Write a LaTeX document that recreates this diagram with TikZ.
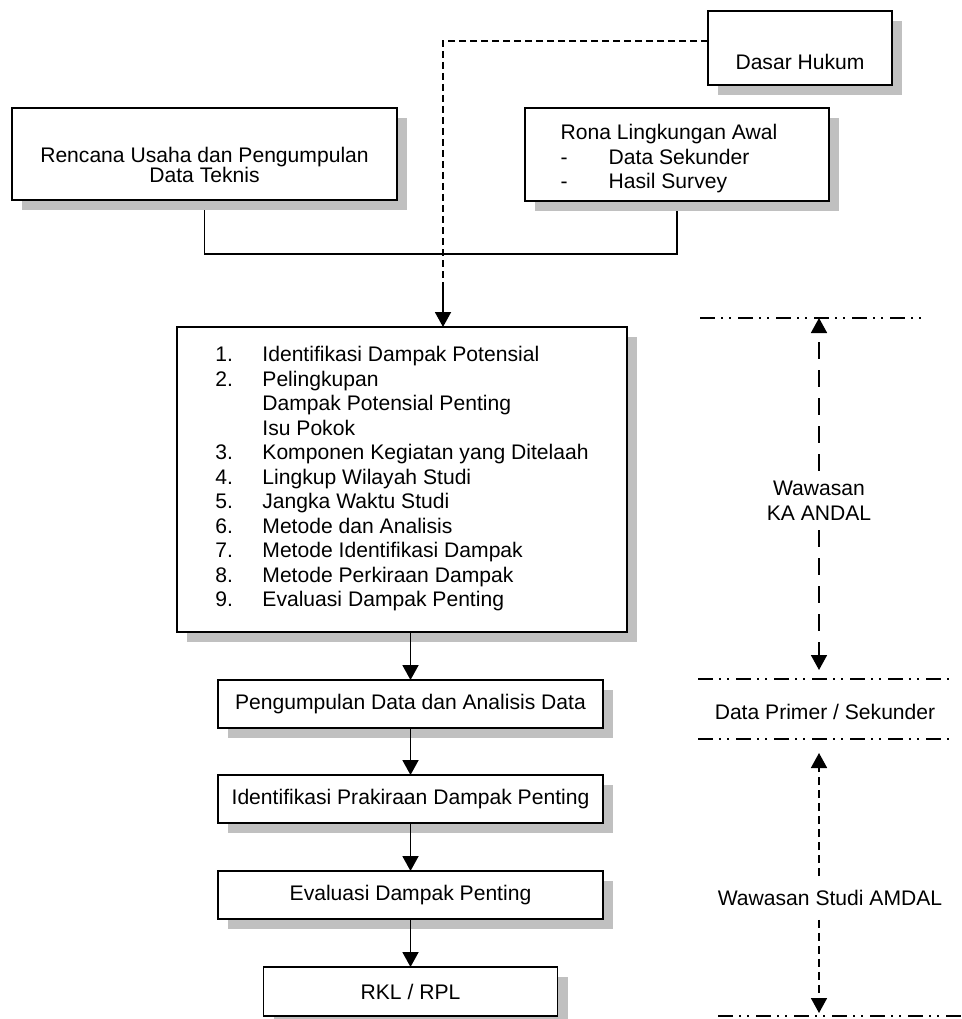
\documentclass[tikz,border=0pt]{standalone}
\usepackage{fontspec}
\setmainfont{Liberation Sans}
\usepackage{xcolor}
\usepackage{tikz}
\usetikzlibrary{positioning}
\usetikzlibrary{arrows.meta,shadows,backgrounds}
\definecolor{bayang}{RGB}{192,192,192}
\tikzset{
  kotak/.style = {align=center, inner sep=0pt, outer sep=0pt, draw=black,
    line width=1.9pt, fill=white, font=\fontsize{21.1}{24.5}\selectfont,
    drop shadow={shadow xshift=10pt, shadow yshift=-10pt, fill=bayang,
      opacity=1}},% kotak berbayang
  tahap/.style = {kotak, minimum width=385pt, minimum height=48pt},% kotak tahapan
  teks/.style = {align=center, inner sep=0pt,
    font=\fontsize{21.1}{24.5}\selectfont},% teks tanpa kotak
  garis/.style = {line width=1.9pt},
  putus/.style = {line width=1.6pt, dash pattern=on 7pt off 4pt},% garis putus
  panjang/.style = {line width=1.7pt, dash pattern=on 17pt off 11pt},
  pendek/.style = {line width=1.7pt, dash pattern=on 8pt off 5pt},
  batas/.style = {line width=1.6pt,
    dash pattern=on 15pt off 6pt on 2pt off 6pt on 2pt off 7pt}% garis batas
}

\begin{document}
\begin{tikzpicture}[x=1pt, y=-1pt, >={Triangle[width=16pt,length=15pt]}]
\useasboundingbox (0,0) rectangle (961,1019);

\node [kotak, minimum width=184pt, text height=58.6pt, text depth=15.4pt]
  (dasar) at (800,48) {Dasar Hukum};
\node [kotak, minimum width=385pt, minimum height=92pt,
  font=\fontsize{21.1}{20}\selectfont] (rencana) at (204.5,154)
  {\rule{0pt}{37.2pt}Rencana Usaha dan Pengumpulan\\Data Teknis};
\node [kotak, minimum width=304pt, minimum height=93pt] (rona) at (677,154.5) {%
  \begin{tabular}{@{}p{48pt}@{}l@{\hspace{16pt}}}
    \multicolumn{2}{@{}l@{\hspace{16pt}}}{\rule{0pt}{27pt}Rona Lingkungan Awal}\\
    - & Data Sekunder\\
    - & Hasil Survey
  \end{tabular}};

\node [kotak, minimum width=450pt, minimum height=305pt] (daftar) at (402,479.5) {%
  \begin{tabular}{@{}p{47pt}@{}l@{}}
    1. & Identifikasi Dampak Potensial\\
    2. & Pelingkupan\\
       & Dampak Potensial Penting\\
       & Isu Pokok\\
    3. & Komponen Kegiatan yang Ditelaah\\
    4. & Lingkup Wilayah Studi\\
    5. & Jangka Waktu Studi\\
    6. & Metode dan Analisis\\
    7. & Metode Identifikasi Dampak\\
    8. & Metode Perkiraan Dampak\\
    9. & Evaluasi Dampak Penting
  \end{tabular}};

\node [tahap] (kumpul) at (410.5,704) {Pengumpulan Data dan Analisis Data};
\node [tahap, below=47pt of kumpul] (prakira) {Identifikasi Prakiraan Dampak Penting};
\node [tahap, below=48pt of prakira] (evaluasi) {Evaluasi Dampak Penting};
\node [kotak, minimum width=294pt, minimum height=49pt, below=48pt of evaluasi]
  (rkl) {RKL / RPL};

% sambungan rencana - rona (di bawah bayangan)
\begin{scope}[on background layer]
  \draw [garis] (rencana.south) |- ([yshift=-53pt]rona.south) -- (rona.south);
\end{scope}

\coordinate (belok) at (443,287);
\draw [putus] ([yshift=7pt]dasar.west) -| (belok);
\draw [garis, ->] (belok) -- (belok |- daftar.north);

\draw [garis, ->] (daftar.south -| kumpul.north) -- (kumpul);
\draw [garis, ->] (kumpul) -- (prakira);
\draw [garis, ->] (prakira) -- (evaluasi);
\draw [garis, ->] (evaluasi) -- (rkl);

% batas wawasan
\draw [batas] (700,318) coordinate (b1) -- (925,318);
\draw [batas] (698,679) coordinate (b2) -- (950,679);
\draw [batas] (698,739) coordinate (b3) -- (950,739);
\draw [batas] (718,1016) coordinate (b4) -- (961,1016);

\node [teks, inner sep=10pt] (kaandal) at (819,500.5) {Wawasan\\KA ANDAL};
\node [teks] (primer) at (825,712) {Data Primer / Sekunder};
\node [teks, inner sep=14pt] (studi) at (830,898) {Wawasan Studi AMDAL};

\draw [panjang, ->] (kaandal.north) -- (kaandal.north |- b1);
\draw [panjang, ->] (kaandal.south) -- ([yshift=9pt]kaandal.south |- b2);
\draw [pendek, ->] (studi.north -| kaandal.north) -- ([yshift=-14pt]kaandal.north |- b3);
\draw [pendek, ->] (studi.south -| kaandal.south) -- ([yshift=3pt]kaandal.south |- b4);
\end{tikzpicture}
\end{document}
